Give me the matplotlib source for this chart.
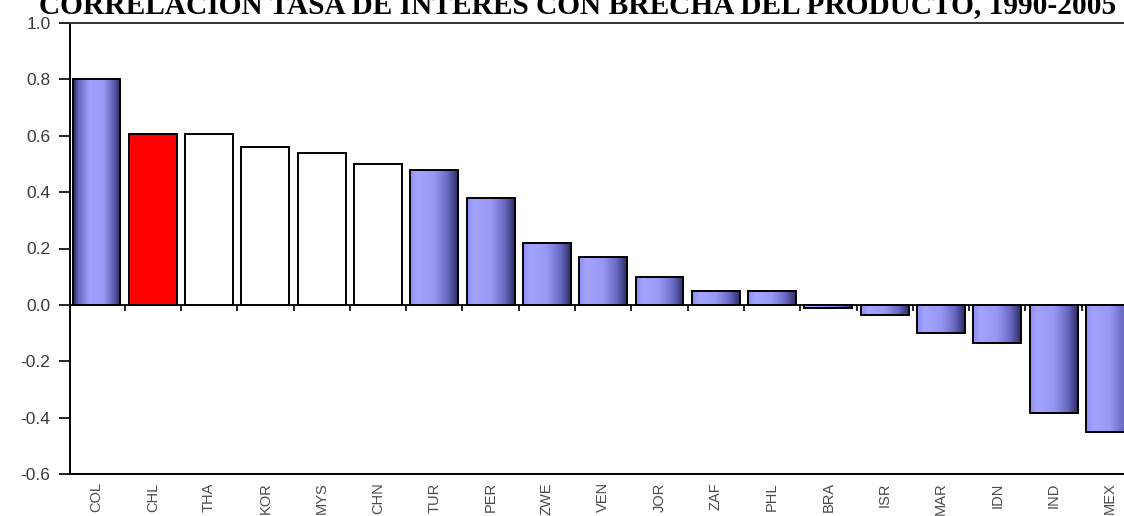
import numpy as np
import matplotlib
matplotlib.use("Agg")
import matplotlib.pyplot as plt
from matplotlib.colors import LinearSegmentedColormap

# Correlation of the policy interest rate with the output gap, by country
countries = ["COL", "CHL", "THA", "KOR", "MYS", "CHN", "TUR", "PER", "ZWE", "VEN",
             "JOR", "ZAF", "PHL", "BRA", "ISR", "MAR", "IDN", "IND", "MEX"]
correlation = [0.80, 0.605, 0.605, 0.56, 0.54, 0.50, 0.48, 0.38, 0.22, 0.17,
               0.10, 0.05, 0.05, -0.012, -0.035, -0.10, -0.135, -0.382, -0.45]
# fill style per country: gradient blue, highlighted red, or hollow
styles = ["blue", "red", "white", "white", "white", "white", "blue", "blue", "blue", "blue",
          "blue", "blue", "blue", "blue", "blue", "blue", "blue", "blue", "blue"]
y_ticks = [1.0, 0.8, 0.6, 0.4, 0.2, 0.0, -0.2, -0.4, -0.6]
title = "CORRELACIÓN TASA DE INTERÉS CON BRECHA DEL PRODUCTO, 1990-2005"

W, H = 1124, 516
fig = plt.figure(figsize=(W / 100, H / 100), dpi=100)
fig.patch.set_facecolor("white")

ax = fig.add_axes([70 / W, 42 / H, (W - 70) / W, 451 / H])
ylo, yhi = min(y_ticks), max(y_ticks)
ax.set_ylim(ylo, yhi)
ax.set_xlim(-0.47, 18.25)

x = np.arange(len(countries))
face = {"blue": "#9a9af6", "red": "#ff0000", "white": "white"}
bars = ax.bar(x, correlation, width=0.85,
              color=[face[s] for s in styles],
              edgecolor="black", linewidth=1.4, zorder=3)

# horizontal shading inside the blue bars (light on the left, dark at the right edge)
shade = LinearSegmentedColormap.from_list(
    "shade", [(0.0, "#8c8cf0"), (0.15, "#a4a4ff"), (0.5, "#9898f4"),
              (0.78, "#6a6ac4"), (1.0, "#2c2c66")])
shade_first = LinearSegmentedColormap.from_list(
    "shade_first", [(0.0, "#202050"), (0.12, "#6868c0"), (0.35, "#a0a0ff"),
                    (0.65, "#9898f4"), (0.85, "#5c5cb0"), (1.0, "#2c2c64")])
grad = np.linspace(0, 1, 256).reshape(1, -1)
for i, (b, s) in enumerate(zip(bars, styles)):
    if s != "blue":
        continue
    x0, w = b.get_x(), b.get_width()
    y0, h = b.get_y(), b.get_height()
    im = ax.imshow(grad, cmap=shade_first if i == 0 else shade, aspect="auto",
                   extent=(x0, x0 + w, y0, y0 + h), zorder=3.5,
                   interpolation="bicubic")
    im.set_clip_path(b)
    b.set_facecolor("none")
    b.set_zorder(4)

# frame
for side in ("left", "bottom", "top"):
    ax.spines[side].set_linewidth(1.4)
    ax.spines[side].set_color("black")
ax.spines["top"].set_color("#333333")
ax.spines["right"].set_visible(False)

ax.set_yticks(y_ticks)
ax.set_yticklabels([f"{v:.1f}" for v in y_ticks])
ax.tick_params(axis="y", direction="out", length=8, width=1.2, pad=6,
               labelsize=12.5, labelcolor="#3a3a3a")

ax.set_xticks(x)
ax.set_xticklabels(countries, rotation=90)
ax.tick_params(axis="x", length=0, pad=6, labelsize=10.5, labelcolor="#4a4a4a")
for lab in ax.get_xticklabels() + ax.get_yticklabels():
    lab.set_fontfamily("Liberation Sans")

# zero line carrying the separator ticks between countries
zero_pos = (0 - ylo) / (yhi - ylo)
sec = ax.secondary_xaxis(zero_pos)
sec.set_xticks(x[:-1] + 0.5)
sec.tick_params(direction="out", length=4, width=1.2, labelbottom=False,
                labeltop=False, bottom=True, top=False)
sec.xaxis.set_ticks_position("bottom")
sec.set_xticklabels([])
sec.spines["bottom"].set_linewidth(1.3)
sec.spines["bottom"].set_color("black")
sec.spines["bottom"].set_zorder(5)

# title, sized to span the width of the plot
t = fig.text(578 / W, 1 - 13 / H, title, ha="center", va="baseline",
             fontfamily="Liberation Serif", fontweight="bold", fontsize=20)
fig.canvas.draw()
width_px = t.get_window_extent().width
t.set_fontsize(20 * 1075 / width_px)

fig.savefig("out.png", dpi=100, facecolor="white")
